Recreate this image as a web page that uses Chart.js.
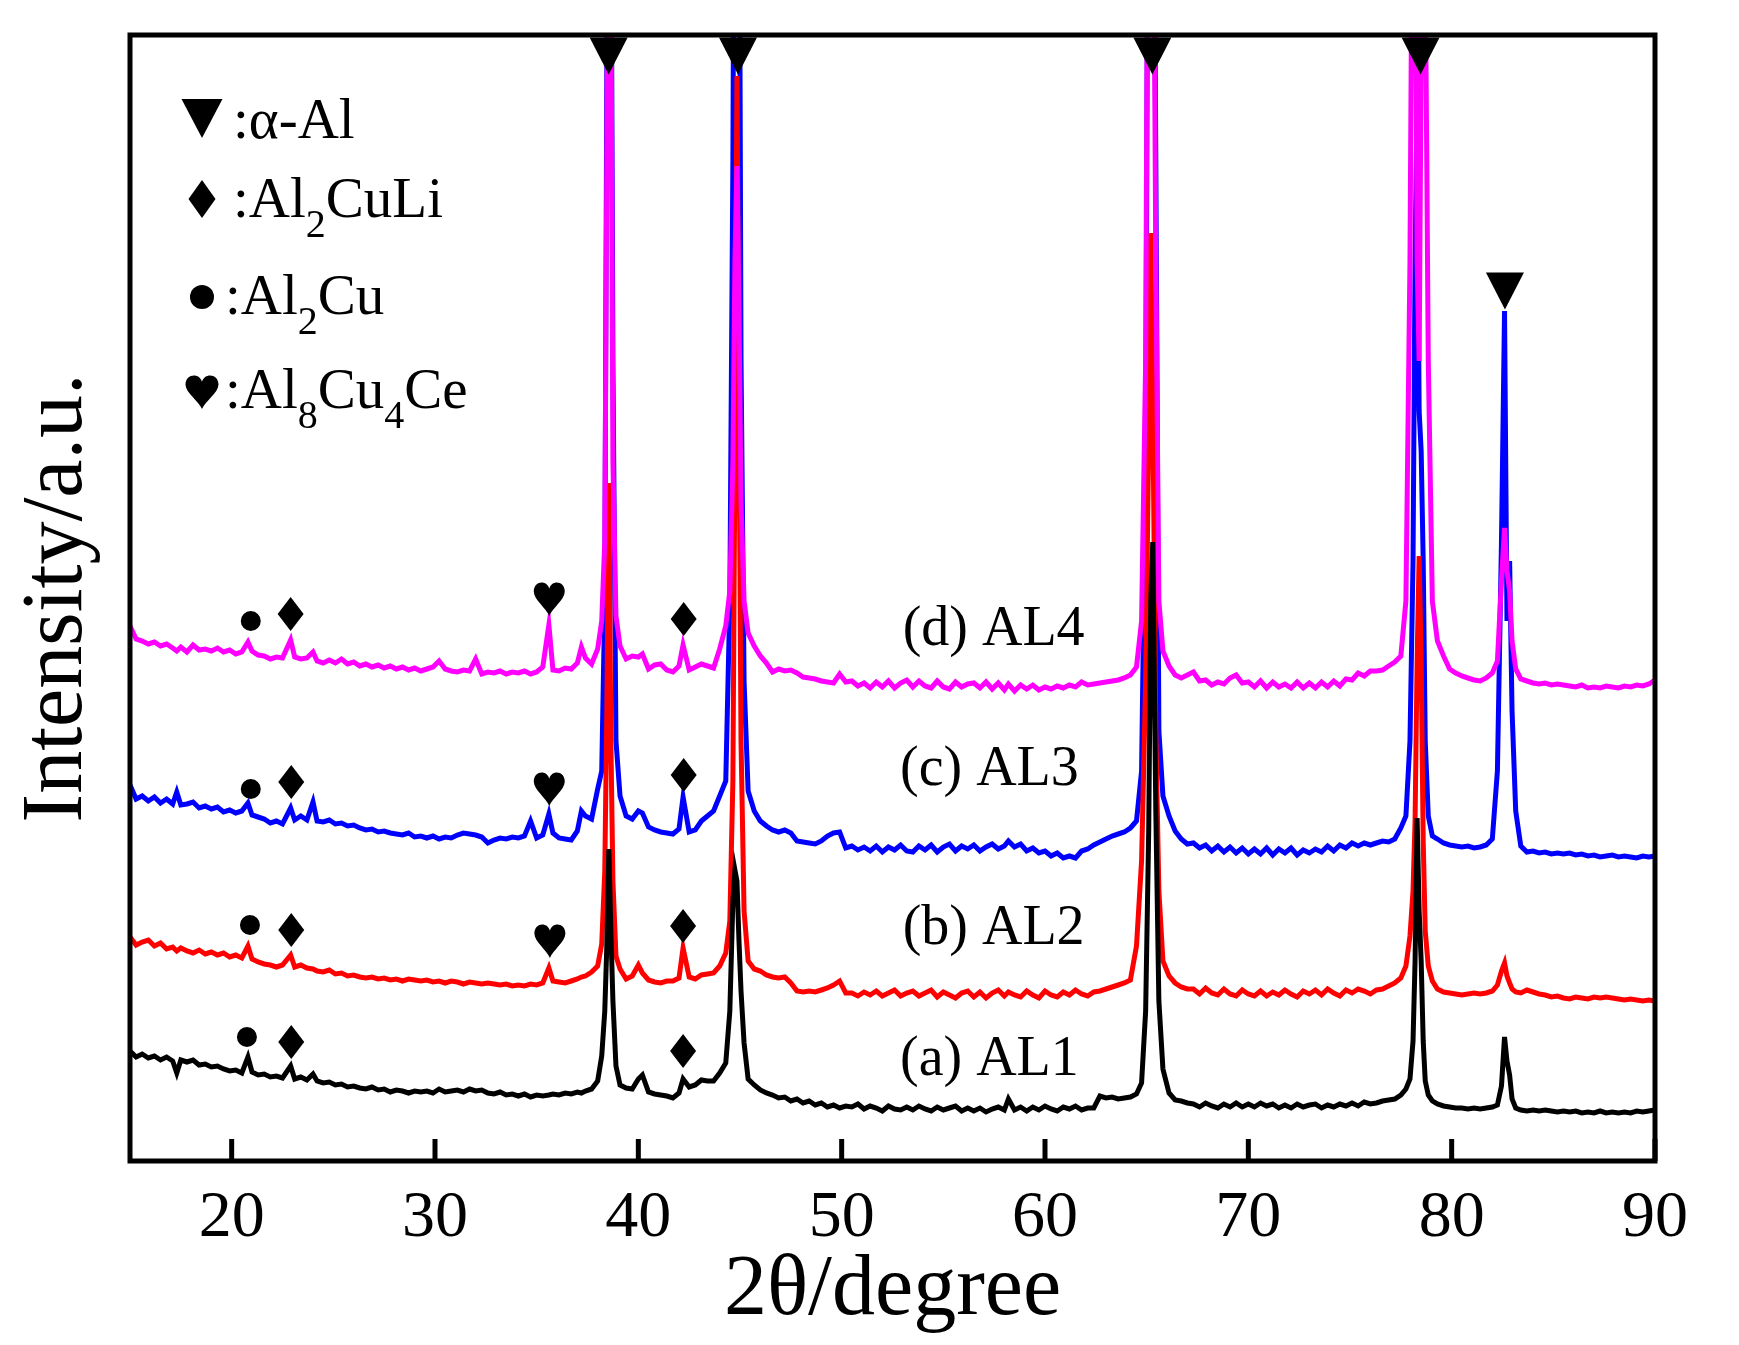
<!DOCTYPE html>
<html>
<head>
<meta charset="utf-8">
<title>XRD patterns AL1-AL4</title>
<script src="https://cdn.jsdelivr.net/npm/chart.js@4.4.1/dist/chart.umd.min.js"></script>
<style>
  html, body { margin: 0; padding: 0; background: #fff; }
  canvas { display: block; }
</style>
</head>
<body>
<canvas id="xrd" width="1739" height="1345"></canvas>
<script>
// 2theta grid (degrees), shared by all four patterns
const angle = [
  15.0, 15.3, 15.6, 15.9, 16.2, 16.5, 16.8, 17.1, 17.3, 17.5,
  17.8, 18.1, 18.4, 18.7, 19.0, 19.3, 19.6, 19.9, 20.2, 20.5,
  20.8, 21.0, 21.3, 21.6, 21.9, 22.2, 22.5, 22.9, 23.1, 23.4,
  23.7, 24.0, 24.2, 24.5, 24.8, 25.1, 25.4, 25.7, 26.0, 26.3,
  26.6, 26.9, 27.2, 27.5, 27.8, 28.1, 28.4, 28.7, 29.0, 29.3,
  29.6, 29.9, 30.2, 30.5, 30.8, 31.1, 31.4, 31.7, 32.0, 32.3,
  32.6, 32.9, 33.2, 33.5, 33.8, 34.1, 34.4, 34.7, 35.0, 35.3,
  35.6, 35.8, 36.1, 36.4, 36.7, 37.0, 37.2, 37.4, 37.7, 38.0,
  38.2, 38.35, 38.45, 38.55, 38.65, 38.75, 38.9, 39.1, 39.4, 39.7,
  40.0, 40.2, 40.5, 40.8, 41.1, 41.4, 41.7, 42.0, 42.2, 42.5,
  42.8, 43.1, 43.4, 43.7, 44.0, 44.3, 44.5, 44.65, 44.75, 44.85,
  44.95, 45.05, 45.2, 45.4, 45.7, 46.0, 46.3, 46.6, 46.9, 47.2,
  47.5, 47.8, 48.1, 48.4, 48.7, 49.0, 49.3, 49.6, 49.9, 50.2,
  50.5, 50.8, 51.1, 51.4, 51.7, 52.0, 52.3, 52.6, 52.9, 53.2,
  53.5, 53.8, 54.1, 54.4, 54.7, 55.0, 55.3, 55.6, 55.9, 56.2,
  56.5, 56.8, 57.1, 57.4, 57.7, 58.0, 58.2, 58.5, 58.8, 59.1,
  59.4, 59.7, 60.0, 60.3, 60.6, 60.9, 61.2, 61.5, 61.8, 62.1,
  62.4, 62.7, 63.0, 63.3, 63.6, 63.9, 64.2, 64.5, 64.75, 64.95,
  65.1, 65.2, 65.3, 65.45, 65.6, 65.8, 66.1, 66.4, 66.7, 67.0,
  67.3, 67.6, 67.9, 68.2, 68.5, 68.8, 69.1, 69.4, 69.7, 70.0,
  70.3, 70.6, 70.9, 71.2, 71.5, 71.8, 72.1, 72.4, 72.7, 73.0,
  73.3, 73.6, 73.9, 74.2, 74.5, 74.8, 75.1, 75.4, 75.7, 76.0,
  76.3, 76.6, 76.9, 77.2, 77.5, 77.75, 77.95, 78.1, 78.2, 78.3,
  78.4, 78.5, 78.6, 78.7, 78.85, 79.05, 79.3, 79.6, 79.9, 80.2,
  80.5, 80.8, 81.1, 81.4, 81.7, 82.0, 82.25, 82.45, 82.6, 82.72,
  82.85, 82.97, 83.15, 83.4, 83.7, 84.0, 84.3, 84.6, 84.9, 85.2,
  85.5, 85.8, 86.1, 86.4, 86.7, 87.0, 87.3, 87.6, 87.9, 88.2,
  88.5, 88.8, 89.1, 89.4, 89.7, 90.0
];

// (a) AL1 - black
const intAL1 = [
  110, 104, 107, 103, 105, 101, 104, 100, 88, 101,
  99, 101, 96, 97, 94, 95, 92, 90, 91, 88,
  104, 89, 86, 87, 84, 85, 83, 95, 82, 84,
  81, 87, 80, 78, 79, 76, 77, 74, 75, 73,
  72, 74, 71, 72, 69, 71, 70, 68, 70, 69,
  70, 68, 72, 69, 70, 71, 69, 72, 70, 71,
  68, 67, 69, 66, 67, 65, 67, 64, 66, 65,
  66, 67, 66, 68, 67, 69, 68, 70, 72, 80,
  105, 150, 215, 312, 230, 160, 95, 76, 73, 72,
  82, 86, 69, 67, 66, 65, 63, 68, 82, 74,
  76, 81, 80, 80, 88, 98, 150, 260, 291, 280,
  220, 170, 118, 82, 76, 71, 68, 66, 63, 64,
  60, 62, 58, 60, 56, 58, 54, 56, 53, 55,
  54, 57, 52, 55, 53, 50, 55, 52, 51, 54,
  51, 55, 52, 50, 54, 51, 53, 55, 50, 53,
  50, 53, 49, 52, 54, 51, 62, 51, 54, 50,
  54, 51, 55, 52, 50, 54, 52, 55, 51, 53,
  53, 65, 63, 64, 62, 63, 64, 67, 78, 150,
  330, 560, 619, 350, 160, 92, 68, 61, 60, 58,
  57, 54, 58, 55, 53, 57, 54, 58, 54, 57,
  54, 58, 55, 57, 53, 56, 53, 57, 54, 56,
  57, 53, 56, 54, 57, 55, 58, 55, 59, 57,
  58, 60, 61, 62, 66, 72, 82, 120, 200, 343,
  250, 200, 120, 80, 66, 60, 57, 55, 54, 53,
  53, 52, 53, 52, 53, 54, 56, 75, 124, 100,
  86, 62, 53, 51, 50, 51, 50, 51, 50, 49,
  50, 49, 50, 48, 49, 48, 50, 48, 49, 48,
  49, 48, 50, 49, 50, 51
];

// (b) AL2 - red
const intAL2 = [
  224, 216, 219, 221, 215, 218, 212, 214, 210, 213,
  210, 208, 211, 207, 209, 206, 208, 204, 206, 203,
  215, 202, 199, 197, 196, 194, 196, 206, 194, 196,
  193, 192, 190, 189, 191, 187, 188, 185, 186, 184,
  183, 184, 182, 183, 181, 182, 180, 182, 181, 180,
  181, 179, 180, 178, 180, 179, 177, 179, 178, 177,
  178, 177, 176, 177, 175, 176, 175, 177, 176, 178,
  193, 180, 179, 178, 180, 182, 184, 185, 189, 195,
  217, 290, 450, 678, 420, 280, 205, 192, 182, 185,
  196, 188, 181, 179, 178, 180, 180, 183, 213, 184,
  182, 186, 187, 188, 195, 208, 240, 380, 700, 1085,
  750, 420, 250, 200, 192, 190, 186, 184, 183, 184,
  178, 170, 169, 170, 169, 171, 173, 176, 180, 168,
  168, 165, 169, 166, 170, 165, 168, 171, 165, 168,
  170, 165, 168, 171, 164, 169, 166, 163, 168, 170,
  164, 169, 163, 168, 171, 165, 169, 166, 164, 170,
  166, 163, 170, 166, 164, 169, 166, 171, 167, 165,
  169, 170, 172, 174, 176, 178, 181, 215, 300, 480,
  720, 928, 760, 430, 270, 200, 185, 178, 174, 172,
  172, 167, 173, 168, 166, 172, 167, 165, 171, 167,
  165, 170, 165, 169, 166, 171, 167, 164, 170, 167,
  171, 166, 172, 168, 165, 171, 168, 172, 170, 167,
  171, 172, 175, 178, 183, 195, 225, 270, 340, 500,
  605, 500, 320, 230, 195, 180, 172, 169, 168, 167,
  166, 167, 168, 167, 168, 170, 176, 190, 198, 185,
  178, 172, 169, 168, 171, 169, 167, 166, 164, 165,
  163, 162, 164, 163, 162, 164, 163, 164, 163, 162,
  161, 162, 161, 160, 161, 160
];

// (c) AL3 - blue
const intAL3 = [
  376, 362, 365, 360, 364, 358, 362, 357, 369, 356,
  357, 359, 353, 355, 352, 354, 349, 351, 348, 350,
  358, 346, 344, 342, 338, 340, 337, 353, 341, 345,
  341, 359, 340, 339, 341, 337, 338, 335, 336, 333,
  331, 332, 329, 330, 328, 327, 326, 328, 324, 325,
  323, 325, 322, 324, 323, 326, 328, 327, 326, 324,
  318, 321, 323, 322, 324, 323, 325, 340, 323, 326,
  347, 328, 323, 322, 321, 330, 350, 345, 342, 372,
  390, 560, 1100, 1500, 1300, 800, 420, 365, 345, 342,
  350, 348, 334, 331, 329, 328, 327, 332, 364, 329,
  331, 340, 345, 350, 365, 380, 560, 1000, 1500, 1600,
  1400, 800, 480, 370, 350, 340, 335, 331, 329, 331,
  328, 320, 319, 318, 317, 320, 325, 328, 329, 313,
  315, 311, 314, 310, 315, 309, 314, 311, 316, 310,
  309, 315, 311, 316, 309, 314, 317, 310, 315, 312,
  316, 310, 314, 317, 312, 315, 320, 314, 317, 310,
  313, 308, 310, 305, 308, 303, 305, 303, 310, 312,
  316, 319, 322, 325, 327, 329, 333, 340, 390, 700,
  1500, 1600, 1500, 1000, 430, 365, 345, 330, 322, 317,
  318, 313, 316, 310, 315, 309, 314, 308, 313, 307,
  312, 307, 313, 306, 312, 308, 313, 306, 311, 308,
  312, 309, 315, 310, 316, 313, 318, 315, 318, 316,
  318, 320, 319, 322, 333, 345, 420, 600, 900, 1061,
  750, 710, 600, 420, 345, 325, 322, 318, 316, 315,
  314, 315, 313, 314, 316, 322, 390, 620, 850, 540,
  600, 450, 350, 315, 309, 310, 308, 309, 307, 308,
  307, 308, 306, 307, 305, 306, 304, 305, 306, 304,
  305, 304, 303, 305, 304, 305
];

// (d) AL4 - magenta
const intAL4 = [
  535, 522, 520, 517, 519, 515, 517, 513, 510, 514,
  509, 516, 511, 512, 510, 513, 509, 511, 507, 509,
  519, 510, 506, 505, 502, 504, 503, 521, 504, 502,
  503, 509, 500, 498, 501, 498, 502, 497, 499, 495,
  497, 494, 496, 493, 495, 492, 494, 491, 493, 490,
  492, 494, 500, 492, 490, 489, 491, 490, 502, 487,
  489, 488, 490, 487, 489, 488, 490, 487, 489, 494,
  536, 491, 490, 493, 492, 498, 514, 503, 497, 512,
  540, 620, 1000, 1500, 1200, 700, 545, 515, 502, 505,
  504, 507, 492, 496, 497, 491, 489, 495, 516, 491,
  494, 497, 495, 493, 512, 535, 570, 700, 900, 995,
  850, 660, 560, 528, 515, 505, 498, 489, 492, 490,
  491, 488, 484, 483, 482, 480, 479, 478, 487, 479,
  480, 475, 478, 473, 479, 474, 480, 473, 478, 481,
  474, 480, 475, 473, 480, 474, 472, 479, 474, 477,
  478, 473, 479, 472, 478, 471, 477, 470, 476, 472,
  476, 471, 474, 472, 475, 473, 476, 474, 479, 476,
  477, 478, 479, 480, 481, 483, 486, 494, 540, 800,
  1500, 1600, 1400, 900, 560, 510, 495, 486, 483, 486,
  489, 480, 481, 476, 479, 477, 483, 486, 478, 479,
  474, 480, 473, 479, 474, 477, 473, 479, 473, 478,
  473, 479, 474, 480, 475, 482, 481, 488, 485, 490,
  490, 491, 495, 499, 505, 560, 900, 1400, 1300, 900,
  800, 1100, 1400, 1200, 800, 560, 520, 505, 492, 488,
  485, 483, 481, 480, 483, 488, 500, 580, 633, 590,
  570, 520, 492, 482, 480, 478, 477, 478, 476, 477,
  476, 475, 474, 476, 473, 474, 473, 475, 474, 473,
  475, 474, 476, 475, 477, 481
];

const xTicks = [20, 30, 40, 50, 60, 70, 80, 90];

// phase markers, [2theta, intensity] of the symbol centre
const markAlphaAl = [[38.54, 1105], [44.9, 1105], [65.28, 1105], [78.47, 1105], [82.62, 870]];
const markAl2CuLi = [[22.9, 547], [42.23, 542], [22.93, 379], [42.23, 386], [22.93, 231], [42.2, 235], [22.93, 119], [42.2, 110]];
const markAl2Cu = [[20.94, 540], [20.94, 372], [20.9, 236], [20.75, 124]];
const markAl8Cu4Ce = [[35.62, 563], [35.62, 373], [35.65, 221]];

// sample names, [2theta, intensity] of the text baseline start
const sampleNames = ['(d) AL4', '(c) AL3', '(b) AL2', '(a) AL1'];
const sampleAt = [[53.0, 516], [52.87, 376], [53.0, 217], [52.87, 86]];

// legend: symbol + text pieces, true = subscript
const legendShapes = ['tri', 'diamond', 'dot', 'heart'];
const legendText = [
  [[':α-Al', false]],
  [[':Al', false], ['2', true], ['CuLi', false]],
  [[':Al', false], ['2', true], ['Cu', false]],
  [[':Al', false], ['8', true], ['Cu', false], ['4', true], ['Ce', false]]
];

const serif = "'Liberation Serif', 'Times New Roman', serif";

function toPoints(ys) {
  return angle.map((a, i) => ({ x: a, y: ys[i] }));
}

function drawShape(ctx, kind, cx, cy, big) {
  ctx.beginPath();
  if (kind === 'tri') {
    const w = big ? 41 : 38, h = big ? 39 : 37;
    ctx.moveTo(cx - w / 2, cy - h / 2);
    ctx.lineTo(cx + w / 2, cy - h / 2);
    ctx.lineTo(cx, cy + h / 2);
    ctx.closePath();
  } else if (kind === 'diamond') {
    const w = big ? 27 : 26, h = big ? 38 : 34;
    ctx.moveTo(cx, cy - h / 2);
    ctx.lineTo(cx + w / 2, cy);
    ctx.lineTo(cx, cy + h / 2);
    ctx.lineTo(cx - w / 2, cy);
    ctx.closePath();
  } else if (kind === 'dot') {
    ctx.arc(cx, cy, big ? 12 : 10, 0, Math.PI * 2);
  } else if (kind === 'heart') {
    const w = big ? 33 : 31, h = 36;
    ctx.moveTo(cx, cy + h / 2);
    ctx.bezierCurveTo(cx - w * 0.1, cy + h * 0.28, cx - w / 2, cy + h * 0.05, cx - w / 2, cy - h * 0.18);
    ctx.bezierCurveTo(cx - w / 2, cy - h * 0.48, cx - w * 0.08, cy - h * 0.52, cx, cy - h * 0.26);
    ctx.bezierCurveTo(cx + w * 0.08, cy - h * 0.52, cx + w / 2, cy - h * 0.48, cx + w / 2, cy - h * 0.18);
    ctx.bezierCurveTo(cx + w / 2, cy + h * 0.05, cx + w * 0.1, cy + h * 0.28, cx, cy + h / 2);
    ctx.closePath();
  }
  ctx.fill();
}

const decorate = {
  id: 'decorate',
  afterDraw(chart) {
    const { ctx, chartArea: a, scales: { x, y } } = chart;
    ctx.save();
    ctx.fillStyle = '#000';
    ctx.strokeStyle = '#000';

    // frame and inward ticks
    ctx.lineWidth = 5;
    ctx.strokeRect(a.left, a.top, a.right - a.left, a.bottom - a.top);
    x.ticks.forEach(t => {
      const px = x.getPixelForValue(t.value);
      ctx.beginPath();
      ctx.moveTo(px, a.bottom);
      ctx.lineTo(px, a.bottom - 22);
      ctx.stroke();
    });

    // phase markers
    const put = (list, kind) => list.forEach(([d, v]) =>
      drawShape(ctx, kind, x.getPixelForValue(d), y.getPixelForValue(v), false));
    put(markAlphaAl, 'tri');
    put(markAl2CuLi, 'diamond');
    put(markAl2Cu, 'dot');
    put(markAl8Cu4Ce, 'heart');

    // sample names
    ctx.font = '56px ' + serif;
    ctx.textBaseline = 'alphabetic';
    ctx.textAlign = 'left';
    sampleNames.forEach((s, i) => {
      ctx.fillText(s, x.getPixelForValue(sampleAt[i][0]), y.getPixelForValue(sampleAt[i][1]));
    });

    // legend
    const symY = [83.5, 164, 262, 356];
    const baseY = [103, 182, 279, 373];
    const textX = [103, 103, 95, 95];
    legendShapes.forEach((k, i) => {
      drawShape(ctx, k, a.left + 72, a.top + symY[i], true);
      let cx = a.left + textX[i];
      legendText[i].forEach(([txt, sub]) => {
        ctx.font = (sub ? '40px ' : '57px ') + serif;
        ctx.fillText(txt, cx, a.top + baseY[i] + (sub ? 20 : 0));
        cx += ctx.measureText(txt).width;
      });
    });
    ctx.restore();
  }
};

const line = (label, ys, color) => ({
  label: label,
  data: toPoints(ys),
  borderColor: color,
  backgroundColor: color,
  borderWidth: 5,
  pointRadius: 0,
  tension: 0,
  fill: false
});

new Chart(document.getElementById('xrd').getContext('2d'), {
  type: 'line',
  data: {
    // first dataset is painted last: black on top, then magenta, red, blue
    datasets: [
      line('(a) AL1', intAL1, '#000000'),
      line('(d) AL4', intAL4, '#ff00ff'),
      line('(b) AL2', intAL2, '#ff0000'),
      line('(c) AL3', intAL3, '#0000ff')
    ]
  },
  options: {
    responsive: false,
    animation: false,
    devicePixelRatio: 1,
    layout: { padding: { left: 0, right: 84, top: 35, bottom: 0 } },
    plugins: { legend: { display: false }, tooltip: { enabled: false } },
    scales: {
      x: {
        type: 'linear',
        min: 15,
        max: 90,
        afterBuildTicks: s => { s.ticks = xTicks.map(v => ({ value: v })); },
        afterFit: s => { s.height = 184; },
        grid: { display: false, drawTicks: false },
        border: { display: false },
        ticks: { color: '#000', padding: 25, font: { family: serif, size: 66, lineHeight: 1 } },
        title: {
          display: true,
          text: '2θ/degree',
          color: '#000',
          font: { family: serif, size: 86, lineHeight: 1 },
          padding: { top: 0, bottom: 11 }
        }
      },
      y: {
        min: 0,
        max: 1126,
        afterFit: s => { s.width = 130; },
        grid: { display: false, drawTicks: false },
        border: { display: false },
        ticks: { display: false },
        title: {
          display: true,
          text: 'Intensity/a.u.',
          color: '#000',
          font: { family: serif, size: 86, lineHeight: 1 },
          padding: { top: 15, bottom: 0 }
        }
      }
    }
  },
  plugins: [decorate]
});
</script>
</body>
</html>
